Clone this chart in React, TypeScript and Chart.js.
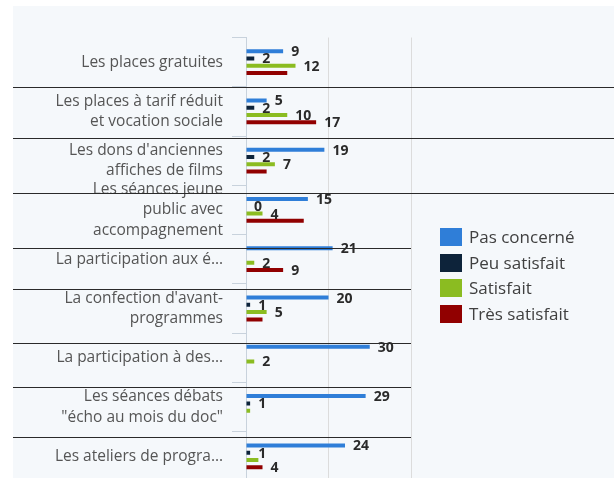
import React, { useEffect, useRef } from "react";
import { Chart, registerables } from "chart.js";

Chart.register(...registerables);

// ---- data ----
const CATEGORIES: string[][] = [
  ["Les places gratuites"],
  ["Les places à tarif réduit", "et vocation sociale"],
  ["Les dons d'anciennes", "affiches de films"],
  ["Les séances jeune", "public avec", "accompagnement"],
  ["La participation aux é…"],
  ["La confection d'avant-", "programmes"],
  ["La participation à des…"],
  ["Les séances débats", "\"écho au mois du doc\""],
  ["Les ateliers de progra…"],
];

const SERIES_NAMES = ["Pas concerné", "Peu satisfait", "Satisfait", "Très satisfait"];
const SERIES_COLORS = ["#2f7ed8", "#0d233a", "#8bbc21", "#910000"];

const PAS_CONCERNE = [9, 5, 19, 15, 21, 20, 30, 29, 24];
const PEU_SATISFAIT = [2, 2, 2, 0, 0, 1, 0, 1, 1];
const SATISFAIT = [12, 10, 7, 4, 2, 5, 2, 1, 3];
const TRES_SATISFAIT = [10, 17, 5, 14, 9, 4, 0, 0, 4];

// which value labels are visible (others hidden by overlap in the original)
const SHOW_PAS_CONCERNE = [1, 1, 1, 1, 1, 1, 1, 1, 1];
const SHOW_PEU_SATISFAIT = [1, 1, 1, 1, 0, 1, 0, 1, 1];
const SHOW_SATISFAIT = [1, 1, 1, 1, 1, 1, 1, 0, 0];
const SHOW_TRES_SATISFAIT = [0, 1, 0, 0, 1, 0, 0, 0, 1];

const X_MIN = 0;
const X_MAX = 40;
const X_STEP = 20;

// decorative separator lines overlaid on the picture (y, right end)
const SEPARATORS: [number, number][] = [
  [87, 614], [138, 614], [193, 614], [248, 411], [289, 411], [343, 411], [387, 411], [437, 411],
];

const SERIES_VALUES = [PAS_CONCERNE, PEU_SATISFAIT, SATISFAIT, TRES_SATISFAIT];
const SERIES_SHOW = [SHOW_PAS_CONCERNE, SHOW_PEU_SATISFAIT, SHOW_SATISFAIT, SHOW_TRES_SATISFAIT];

const FONT = "'Open Sans', 'DejaVu Sans', sans-serif";

const valueLabels = {
  id: "valueLabels",
  afterDatasetsDraw(chart: any) {
    const ctx = chart.ctx;
    ctx.save();
    ctx.font = `bold 14px ${FONT}`;
    ctx.fillStyle = "#2a2a2a";
    ctx.textBaseline = "middle";
    ctx.textAlign = "left";
    chart.data.datasets.forEach((ds: any, di: number) => {
      const meta = chart.getDatasetMeta(di);
      meta.data.forEach((bar: any, i: number) => {
        if (!SERIES_SHOW[di][i]) return;
        ctx.fillText(String(ds.data[i]), bar.x + 8, bar.y + 1);
      });
    });
    ctx.restore();
  },
};

export default function App() {
  const ref = useRef<HTMLCanvasElement | null>(null);

  useEffect(() => {
    if (!ref.current) return;
    const chart = new Chart(ref.current, {
      type: "bar",
      data: {
        labels: CATEGORIES,
        datasets: SERIES_NAMES.map((name, i) => ({
          label: name,
          data: SERIES_VALUES[i],
          backgroundColor: SERIES_COLORS[i],
          borderWidth: 0,
          categoryPercentage: 0.59,
          barPercentage: 0.55,
        })),
      },
      options: {
        indexAxis: "y",
        responsive: false,
        animation: false,
        layout: { padding: { top: 37.5, right: 203, bottom: 17, left: 0 } },
        plugins: { legend: { display: false }, tooltip: { enabled: false } },
        scales: {
          x: {
            min: X_MIN,
            max: X_MAX,
            ticks: { display: false, stepSize: X_STEP },
            grid: { color: "#dcdcdc", drawTicks: false },
            border: { display: false },
          },
          y: {
            afterFit: (axis: any) => {
              axis.width = 246;
            },
            ticks: {
              autoSkip: false,
              color: "#555555",
              padding: 9,
              font: { family: FONT, size: 15.5, lineHeight: 1.3 },
            },
            grid: {
              drawOnChartArea: false,
              drawTicks: true,
              tickLength: 14,
              color: "#c8d2dc",
            },
            border: { display: true, color: "#c8d2dc" },
          },
        },
      },
      plugins: [valueLabels],
    } as any);
    return () => chart.destroy();
  }, []);

  return (
    <div
      style={{
        position: "fixed",
        left: 0,
        top: 0,
        width: 614,
        height: 478,
        overflow: "hidden",
        background: "#ffffff",
      }}
    >
      <div
        style={{
          position: "absolute",
          left: 13,
          top: 6,
          right: 0,
          bottom: 0,
          background: "#f5f8fb",
        }}
      />
      <canvas
        ref={ref}
        width={614}
        height={500}
        style={{ position: "absolute", left: 0, top: 0, width: 614, height: 500 }}
      />
      {SERIES_NAMES.map((name, i) => (
        <div
          key={name}
          style={{
            position: "absolute",
            left: 440,
            top: 228 + i * 25.7,
            height: 18,
            display: "flex",
            alignItems: "center",
            fontFamily: FONT,
            fontSize: 17,
            color: "#404040",
            whiteSpace: "nowrap",
          }}
        >
          <span
            style={{
              display: "inline-block",
              width: 22,
              height: 18,
              background: SERIES_COLORS[i],
              marginRight: 7,
            }}
          />
          <span style={{ lineHeight: "18px" }}>{name}</span>
        </div>
      ))}
      {SEPARATORS.map(([y, x2], i) => (
        <div
          key={i}
          style={{
            position: "absolute",
            left: 13,
            top: y,
            width: x2 - 13,
            height: 1,
            background: "#2a2a2a",
          }}
        />
      ))}
    </div>
  );
}
